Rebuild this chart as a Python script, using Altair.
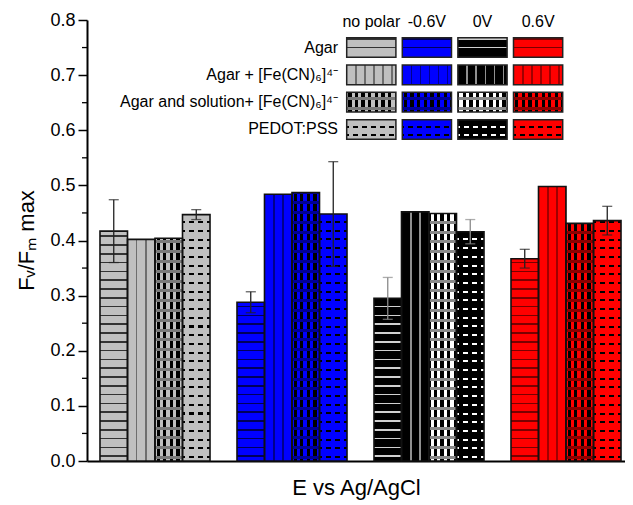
import altair as alt

FONT = "Liberation Sans, Arial, sans-serif"

# ---------------- data ----------------
groups = ["no polar", "-0.6V", "0V", "0.6V"]
series = ["Agar", "Agar + [Fe(CN)\u2086]\u2074\u207b", "Agar and solution+ [Fe(CN)\u2086]\u2074\u207b", "PEDOT:PSS"]

vals_nopolar = [0.417, 0.402, 0.404, 0.447]
vals_neg06 = [0.288, 0.484, 0.487, 0.448]
vals_0v = [0.295, 0.452, 0.449, 0.416]
vals_pos06 = [0.367, 0.498, 0.431, 0.436]

err_nopolar = [0.057, 0.0, 0.0, 0.009]
err_neg06 = [0.019, 0.0, 0.0, 0.095]
err_0v = [0.038, 0.0, 0.0, 0.022]
err_pos06 = [0.017, 0.0, 0.0, 0.026]

yticks = [0.0, 0.1, 0.2, 0.3, 0.4, 0.5, 0.6, 0.7, 0.8]
yminor = [0.05, 0.15, 0.25, 0.35, 0.45, 0.55, 0.65, 0.75]

values = [vals_nopolar, vals_neg06, vals_0v, vals_pos06]
errors = [err_nopolar, err_neg06, err_0v, err_pos06]

# ---------------- styles ----------------
W_PLOT, H_PLOT = 538, 441
YMAX = 0.8
BAR_W = 27.5
CLR = "rgba(0,0,0,0)"

palette = {
    "no polar": dict(base="#c0c0c0", hline="#333333", vline="#6e6e6e", cdark="#000000", cband="#7a7a7a", dash="#000000", err="#222222"),
    "-0.6V": dict(base="#0000ff", hline="#00005a", vline="#00008c", cdark="#000000", cband="#000096", dash="#000000", err="#222222"),
    "0V": dict(base="#000000", hline="#d0d0d0", vline="#909090", cdark="#ffffff", cband="#8a8a8a", dash="#ffffff", err="#8a8a8a"),
    "0.6V": dict(base="#ff0000", hline="#7a0000", vline="#a00000", cdark="#000000", cband="#8c0000", dash="#000000", err="#222222"),
}


def _grad(intervals, color, vertical):
    stops = [{"offset": 0, "color": CLR}]
    last = 0.0
    for a, b in sorted(intervals):
        a = max(last, min(1.0, a))
        b = max(a, min(1.0, b))
        if b <= a:
            continue
        stops += [{"offset": round(a, 5), "color": CLR}, {"offset": round(a, 5), "color": color},
                  {"offset": round(b, 5), "color": color}, {"offset": round(b, 5), "color": CLR}]
        last = b
    stops.append({"offset": 1, "color": CLR})
    if vertical:  # stripes stacked along y
        return {"gradient": "linear", "x1": 0, "y1": 0, "x2": 0, "y2": 1, "stops": stops}
    return {"gradient": "linear", "x1": 0, "y1": 0, "x2": 1, "y2": 0, "stops": stops}


def hstripes(H, pitch, thick, color, phase):
    iv = []
    y = phase
    while y < H:
        iv.append(((H - (y + thick)) / H, (H - y) / H))
        y += pitch
    return _grad(iv, color, True)


def vstripes(W, pitch, width, color, phase):
    iv = []
    x = phase
    while x < W:
        iv.append((x / W, (x + width) / W))
        x += pitch
    return _grad(iv, color, False)


def fills(si, pal, W, H, legend=False):
    base = pal["base"]
    if si == 0:
        ph = H / 2 - 0.8 if legend else 4.0
        return base, hstripes(H, 8.8, 1.6, pal["hline"], ph), CLR, CLR
    if si == 1:
        return base, CLR, vstripes(W, 9.0, 1.5, pal["vline"], 8.5), CLR
    if si == 2:
        return base, CLR, vstripes(W, 6.6, 3.3, pal["cdark"], 1.5), hstripes(H, 9.8, 3.0, pal["cband"], 2.0)
    return base, hstripes(H, 8.7, 2.0, pal["dash"], 3.0), vstripes(W, 9.0, 4.0, base, 2.0), CLR


bar_rows, err_rows = [], []
for gi, g in enumerate(groups):
    for si, s in enumerate(series):
        v = values[gi][si]
        H = v / YMAX * H_PLOT
        fa, fb, fc, fd = fills(si, palette[g], BAR_W, H)
        bar_rows.append({"group": g, "series": s, "value": v, "fa": fa, "fb": fb, "fc": fc, "fd": fd})
        e = errors[gi][si]
        if e > 0:
            err_rows.append({"group": g, "series": s, "lo": v - e, "hi": v + e, "ecolor": palette[g]["err"]})

leg_rows = []
for gi, g in enumerate(groups):
    for si, s in enumerate(series):
        fa, fb, fc, fd = fills(si, palette[g], 49, 19.6, legend=True)
        leg_rows.append({"col": g, "row": s, "fa": fa, "fb": fb, "fc": fc, "fd": fd})

# ---------------- encodings ----------------
x_enc = alt.X("group:N", sort=groups,
              scale=alt.Scale(domain=groups, paddingInner=0.197, paddingOuter=0.062, align=0.765),
              axis=alt.Axis(labels=False, ticks=False, domainWidth=2, domainColor="black", grid=False,
                            title="E vs Ag/AgCl", titleFont=FONT, titleFontSize=22, titleFontWeight="normal",
                            titleColor="black", titleX=269, titleY=33, titleBaseline="alphabetic"))
xo_enc = alt.XOffset("series:N", sort=series, scale=alt.Scale(domain=series, paddingInner=0, paddingOuter=0))
y_axis = alt.Axis(values=yticks, format=".1f", labelFont=FONT, labelFontSize=18, labelColor="black",
                  labelPadding=3, tickSize=9, tickWidth=1.5, tickColor="black", domainWidth=2,
                  domainColor="black", grid=False, title="F\u1d65/F\u2098 max", titleFont=FONT,
                  titleFontSize=22, titleFontWeight="normal", titleColor="black", titleAngle=270,
                  titleX=-54, titleY=220, titleBaseline="alphabetic")
y_scale = alt.Scale(domain=[0, YMAX], nice=False, zero=True)

bars_data = alt.Data(values=bar_rows)
layers = []
for f in ["fa", "fb", "fc", "fd"]:
    layers.append(alt.Chart(bars_data).mark_bar(strokeWidth=0).encode(
        x=x_enc, xOffset=xo_enc,
        y=alt.Y("value:Q", scale=y_scale, axis=y_axis),
        fill=alt.Fill(f + ":N", scale=None)))
layers.append(alt.Chart(bars_data).mark_bar(fill=None, stroke="#111111", strokeWidth=1.6).encode(
    x=x_enc, xOffset=xo_enc, y=alt.Y("value:Q", scale=y_scale, axis=y_axis)))

err_data = alt.Data(values=err_rows)
layers.append(alt.Chart(err_data).mark_rule(strokeWidth=1.3).encode(
    x=x_enc, xOffset=xo_enc, y=alt.Y("lo:Q", scale=y_scale, axis=y_axis), y2="hi:Q",
    color=alt.Color("ecolor:N", scale=None)))
for fld in ["lo", "hi"]:
    layers.append(alt.Chart(err_data).mark_tick(size=10, thickness=1.3).encode(
        x=x_enc, xOffset=xo_enc, y=alt.Y(fld + ":Q", scale=y_scale, axis=y_axis),
        color=alt.Color("ecolor:N", scale=None)))

layers.append(alt.Chart(alt.Data(values=[{"m": m} for m in yminor])).mark_rule(
    color="black", strokeWidth=1.3).encode(
    y=alt.Y("m:Q", scale=y_scale, axis=y_axis), x=alt.value(-5), x2=alt.value(0)))

main = alt.layer(*layers)

# ---------------- legend grid ----------------
xl = alt.X("col:N", sort=groups, scale=alt.Scale(domain=groups, range=[259.7, 475.7], paddingInner=0.115,
                                                 paddingOuter=0), axis=None)
yl = alt.Y("row:N", sort=series, scale=alt.Scale(domain=series, range=[17.7, 119.3], paddingInner=0.28,
                                                 paddingOuter=0), axis=None)
leg_data = alt.Data(values=leg_rows)
leg_layers = []
for f in ["fa", "fb", "fc", "fd"]:
    leg_layers.append(alt.Chart(leg_data).mark_rect(strokeWidth=0).encode(
        x=xl, y=yl, fill=alt.Fill(f + ":N", scale=None)))
leg_layers.append(alt.Chart(leg_data).mark_rect(fill=None, stroke="#222222", strokeWidth=1.5).encode(x=xl, y=yl))
leg_layers.append(alt.Chart(alt.Data(values=[{"col": g} for g in groups])).mark_text(
    font=FONT, fontSize=16, color="black", baseline="middle").encode(x=xl, y=alt.value(2), text="col:N"))
leg_layers.append(alt.Chart(alt.Data(values=[{"row": s} for s in series])).mark_text(
    font=FONT, fontSize=16, color="black", align="right", baseline="middle").encode(
    x=alt.value(251), y=yl, text="row:N"))
legend = alt.layer(*leg_layers)

chart = alt.layer(main, legend).resolve_scale(x="independent", y="independent").properties(
    width=W_PLOT, height=H_PLOT,
    autosize=alt.AutoSizeParams(type="none"),
    padding={"left": 79, "top": 12, "right": 0, "bottom": 40},
    background="white",
).configure_view(stroke=None)

chart.save("out.html", embed_options={"renderer": "svg", "actions": False})
